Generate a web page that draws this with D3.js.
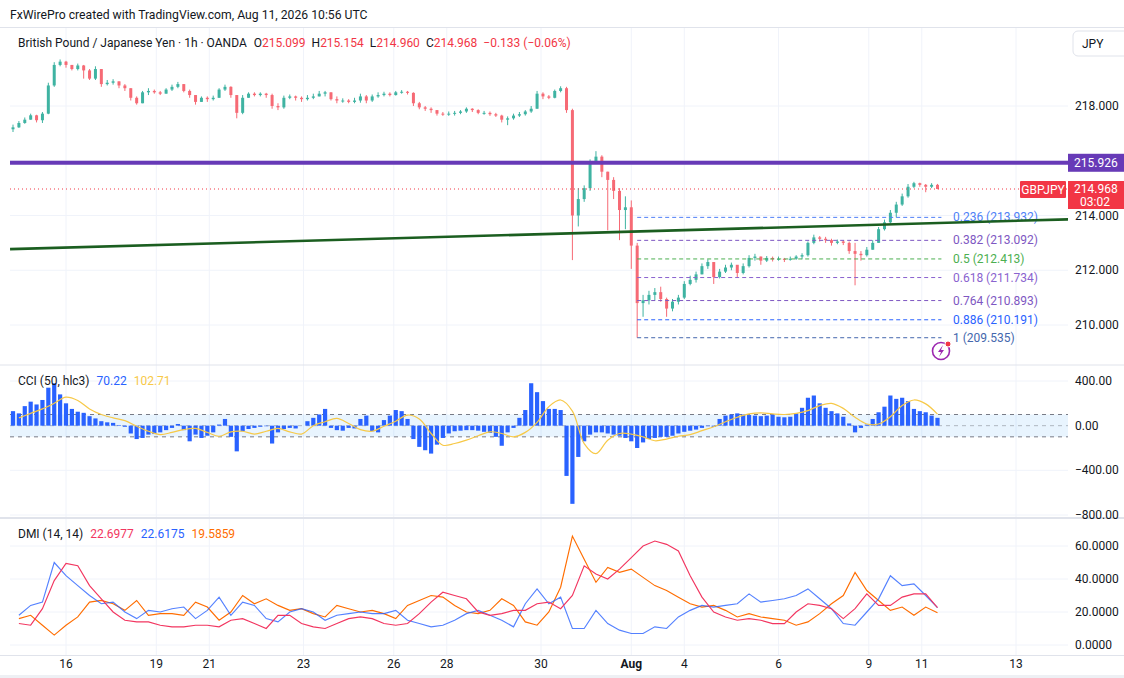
<!DOCTYPE html>
<html>
<head>
<meta charset="utf-8">
<script src="https://cdn.jsdelivr.net/npm/d3@7"></script>
<style>
  body { margin: 0; background: #fff; }
  text { font-family: Roboto, "Noto Sans", sans-serif; }
</style>
</head>
<body>
<svg id="chart" width="1124" height="678"></svg>
<script>
// 3-hour bars, first bar 27 trading hours before Jul 16 00:00
const firstBarHour = -27, barHours = 3;

const closes = [
  217.22, 217.38, 217.50, 217.66, 217.48, 217.72, 218.75, 219.50, 219.62, 219.50,
  219.35, 219.48, 219.30, 219.00, 219.35, 218.80, 218.85, 218.90, 218.75, 218.65,
  218.30, 218.10, 218.50, 218.55, 218.50, 218.45, 218.60, 218.70, 218.80, 218.55,
  218.40, 218.15, 218.30, 218.25, 218.30, 218.60, 218.70, 218.40, 217.75, 218.30,
  218.45, 218.40, 218.45, 218.40, 218.00, 217.95, 218.30, 218.35, 218.30, 218.25,
  218.30, 218.35, 218.45, 218.50, 218.25, 218.20, 218.20, 218.15, 218.20, 218.35,
  218.20, 218.35, 218.40, 218.45, 218.40, 218.50, 218.52, 218.48, 218.10, 217.95,
  217.90, 217.85, 217.72, 217.70, 217.72, 217.75, 217.80, 217.90, 217.85, 217.75,
  217.75, 217.70, 217.65, 217.50, 217.55, 217.65, 217.70, 217.80, 217.90, 218.45,
  218.35, 218.30, 218.55, 218.65, 217.85, 214.00, 214.60, 215.00, 215.95, 216.15,
  215.60, 215.30, 214.90, 214.20, 214.30, 212.90, 210.80, 210.90, 211.10, 211.20,
  210.95, 210.60, 210.85, 211.00, 211.50, 211.65, 211.85, 212.15, 212.30, 211.75,
  211.95, 212.10, 212.20, 211.90, 212.15, 212.45, 212.50, 212.35, 212.45, 212.40,
  212.42, 212.38, 212.42, 212.50, 212.55, 213.00, 213.20, 213.15, 213.10, 213.00,
  213.05, 213.00, 212.70, 212.60, 212.55, 212.75, 213.00, 213.50, 213.75, 214.10,
  214.40, 214.70, 215.05, 215.18, 215.12, 215.05, 215.12, 214.968
];
const highs = [
  217.32, 217.45, 217.58, 217.72, 217.68, 217.78, 218.85, 219.60, 219.70, 219.65,
  219.50, 219.55, 219.50, 219.35, 219.45, 219.35, 218.95, 218.98, 218.90, 218.80,
  218.65, 218.35, 218.55, 218.65, 218.60, 218.55, 218.65, 218.78, 218.88, 218.80,
  218.60, 218.40, 218.35, 218.35, 218.38, 218.65, 218.78, 218.72, 218.40, 218.40,
  218.50, 218.50, 218.50, 218.48, 218.45, 218.10, 218.38, 218.42, 218.38, 218.35,
  218.40, 218.45, 218.55, 218.55, 218.50, 218.35, 218.28, 218.25, 218.30, 218.45,
  218.40, 218.42, 218.50, 218.52, 218.50, 218.55, 218.58, 218.55, 218.50, 218.15,
  218.00, 217.95, 217.85, 217.78, 217.80, 217.82, 217.85, 217.95, 217.92, 217.88,
  217.82, 217.80, 217.75, 217.68, 217.62, 217.72, 217.78, 217.85, 218.00, 218.55,
  218.50, 218.40, 218.60, 218.72, 218.70, 217.90, 215.00, 215.10, 216.05, 216.35,
  216.20, 215.60, 215.40, 215.00, 214.70, 214.55, 213.00, 211.10, 211.25, 211.35,
  211.40, 211.00, 210.95, 211.10, 211.60, 211.80, 211.95, 212.25, 212.40, 212.30,
  212.05, 212.20, 212.28, 212.15, 212.25, 212.55, 212.60, 212.50, 212.52, 212.50,
  212.50, 212.45, 212.50, 212.55, 212.62, 213.05, 213.30, 213.25, 213.22, 213.15,
  213.12, 213.10, 213.05, 213.00, 212.70, 212.85, 213.10, 213.58, 213.85, 214.20,
  214.50, 214.80, 215.15, 215.23, 215.20, 215.15, 215.18, 215.154
];
const lows = [
  217.05, 217.20, 217.35, 217.50, 217.40, 217.38, 217.70, 218.70, 219.45, 219.40,
  219.30, 219.30, 219.00, 218.95, 218.95, 218.70, 218.75, 218.78, 218.65, 218.55,
  218.20, 218.05, 218.10, 218.40, 218.45, 218.40, 218.45, 218.55, 218.65, 218.50,
  218.30, 218.05, 218.15, 218.15, 218.20, 218.30, 218.55, 218.30, 217.55, 217.70,
  218.30, 218.35, 218.35, 218.30, 217.90, 217.85, 217.90, 218.25, 218.20, 218.15,
  218.20, 218.25, 218.35, 218.35, 218.20, 218.10, 218.12, 218.10, 218.10, 218.12,
  218.10, 218.15, 218.30, 218.35, 218.35, 218.38, 218.45, 218.42, 218.00, 217.88,
  217.82, 217.75, 217.65, 217.64, 217.64, 217.65, 217.70, 217.75, 217.78, 217.70,
  217.68, 217.64, 217.60, 217.40, 217.30, 217.50, 217.60, 217.65, 217.75, 217.90,
  218.25, 218.25, 218.28, 218.50, 217.75, 212.37, 213.60, 214.50, 214.90, 215.90,
  215.40, 213.46, 214.60, 213.10, 213.50, 212.05, 209.535, 210.30, 210.75, 210.90,
  210.85, 210.30, 210.50, 210.75, 210.95, 211.45, 211.55, 211.85, 212.05, 211.50,
  211.70, 211.90, 212.00, 211.75, 211.85, 212.10, 212.35, 212.20, 212.30, 212.32,
  212.35, 212.30, 212.35, 212.38, 212.40, 212.50, 212.95, 213.05, 213.00, 212.90,
  212.95, 212.92, 212.60, 211.45, 212.35, 212.50, 212.75, 213.00, 213.45, 213.70,
  213.93, 214.35, 214.65, 215.00, 215.05, 214.85, 215.00, 214.96
];
const firstOpen = 217.15;

// CCI(50) per bar
const cci = [
  130, 110, 175, 215, 190, 230, 340, 380, 280, 200,
  150, 125, 115, 85, 65, 40, 30, 25, 5, -10,
  -70, -120, -110, -80, -75, -60, -40, -20, 15, -40,
  -140, -80, -110, -90, -60, 10, 60, -100, -230, -50,
  -30, -20, -10, -5, -160, -60, -30, -20, -25, 0,
  40, 70, 100, 150, -20, -40, -45, -20, -25, 60,
  90, -50, -60, 50, 90, 140, 130, 60, -120, -190,
  -220, -250, -170, -110, -70, -50, -45, -40, -40, -45,
  -55, -65, -100, -180, -60, -20, 70, 140, 380, 300,
  220, 150, 150, 140, -450, -700, -280, -140, -80, -60,
  -60, -70, -80, -90, -110, -140, -200, -150, -120, -110,
  -100, -100, -90, -70, -55, -45, -35, -20, -5, -10,
  60, 90, 100, 110, 100, 95, 90, 85, 90, 100,
  80, 75, 80, 110, 160, 250, 270, 200, 160, 130,
  110, 80, 20, -60, -20, 10, 60, 120, 170, 270,
  240, 250, 220, 150, 130, 120, 90, 70.22
];

// line series sampled on every second bar (bars 1, 3, 5, ...)
const cciMa = [
  70, 110, 150, 200, 255, 225, 150, 100, 70, 45,
  -5, -50, -80, -60, -35, -25, -60, -95, -55, -50,
  -75, -50, -25, -55, -75, 0, 35, 65, 20, -35,
  -50, -5, 40, 95, 60, -70, -175, -160, -130, -90,
  -55, -70, -100, -60, 30, 170, 230, 130, -160, -250,
  -130, -70, -75, -100, -135, -120, -95, -80, -45, -10,
  35, 75, 105, 115, 105, 100, 110, 135, 180, 200,
  155, 75, 15, 15, 80, 180, 230, 195, 103
];
const adx = [
  13, 12, 22, 39, 49.5, 48, 36, 28, 20, 15,
  14, 14, 12, 11, 11, 12, 12, 11, 15, 16,
  13, 10, 18, 18, 13, 11, 10, 13, 16, 17,
  16, 13, 12, 13, 19, 26, 32, 30, 28, 20,
  18, 19, 21, 21, 25, 26, 22, 30, 48, 43,
  40, 46, 53, 60, 63, 61, 57, 42, 29, 20,
  17, 15, 16, 15, 13, 13, 20, 25, 24, 22,
  16, 22, 31, 24, 24, 29, 31, 31, 22.6977
];
const plusDI = [
  18, 24, 26, 50, 42, 36, 30, 25, 26, 20,
  16, 21, 20, 22, 23, 16, 21, 29, 18, 26,
  24, 16, 14, 20, 22, 20, 15, 18, 19, 20,
  19, 19, 21, 15, 13, 11, 12, 15, 19, 21,
  18, 15, 11, 25, 34, 25, 29, 10, 10, 21,
  13, 9, 7, 7, 11, 10, 17, 21, 24, 23,
  24, 25, 31, 26, 27, 28, 30, 34, 28, 22,
  13, 12, 20, 28, 42, 36, 37, 30, 22.6175
];
const minusDI = [
  16, 18, 12, 6, 12, 17, 26, 27, 25, 21,
  27, 18, 19, 19, 18, 26, 23, 15, 20, 30,
  25, 28, 24, 21, 22, 19, 17, 24, 22, 20,
  21, 19, 16, 24, 27, 30, 29, 24, 20, 19,
  21, 28, 24, 14, 12, 20, 35, 66, 52, 38,
  47, 44, 46, 41, 36, 33, 29, 25, 23, 24,
  21, 17, 19, 17, 16, 15, 12, 14, 19, 25,
  30, 44, 33, 27, 21, 23, 18, 23, 19.5859
];

// time axis: trading hours since Jul 16 00:00
const dayLabels = ['16', '19', '21', '23', '26', '28', '30', 'Aug', '4', '6', '9', '11', '13'];
const dayHours  = [0, 46, 73, 121, 167, 194, 242, 288, 315, 363, 409, 436, 484];

const priceTicks = [210, 212, 214, 216, 218];
const cciTicks = [400, 0, -400, -800];
const dmiTicks = [0, 20, 40, 60];

const fibRatios = ['0.236', '0.382', '0.5', '0.618', '0.764', '0.886', '1'];
const fibPrices = [213.932, 213.092, 212.413, 211.734, 210.893, 210.191, 209.535];
const fibColors = ['#4f7ff7', '#7e57c2', '#4caf50', '#8a63cf', '#7e57c2', '#2962ff', '#4467ad'];
const fibStartHour = 291, fibEndHour = 446;

const resistance = 215.926;
const lastPrice = 214.968;
// trendline anchors [hour, price]
const trendHours = [-28.5, 510.5];
const trendPrices = [212.77, 213.86];

const svg = d3.select('#chart');
const W = 1124, plotL = 10, plotR = 1068;
const main = { top: 28, bottom: 365 };
const dmiBottom = 655;

const x = d3.scaleLinear().domain([0, 484]).range([66, 1016]);
const py = d3.scaleLinear().domain([210, 218]).range([325, 106]);
const cy = d3.scaleLinear().domain([-800, 400]).range([515, 381]);
const dy = d3.scaleLinear().domain([0, 60]).range([645, 546]);

const barX = i => x(firstBarHour + barHours * i);
const lineX = k => barX(2 * k + 1);
const grid = '#f0f3fa';
const ink = '#131722';

// credit line
svg.append('text').attr('x', 10).attr('y', 19).attr('font-size', 12.2).attr('fill', ink)
  .text('FxWirePro created with TradingView.com, Aug 11, 2026 10:56 UTC');
svg.append('line').attr('x1', 0).attr('x2', W).attr('y1', 27.5).attr('y2', 27.5).attr('stroke', '#e0e3eb');

// vertical grid
svg.append('g').selectAll('line').data(dayHours).enter().append('line')
  .attr('x1', d => x(d)).attr('x2', d => x(d))
  .attr('y1', main.top).attr('y2', dmiBottom)
  .attr('stroke', grid);

// horizontal grids
svg.append('g').selectAll('line').data(priceTicks).enter().append('line')
  .attr('x1', plotL).attr('x2', plotR).attr('y1', d => py(d)).attr('y2', d => py(d)).attr('stroke', grid);
svg.append('g').selectAll('line').data([400, -400, -800]).enter().append('line')
  .attr('x1', plotL).attr('x2', plotR).attr('y1', d => cy(d)).attr('y2', d => cy(d)).attr('stroke', grid);
svg.append('g').selectAll('line').data(dmiTicks).enter().append('line')
  .attr('x1', plotL).attr('x2', plotR).attr('y1', d => dy(d)).attr('y2', d => dy(d)).attr('stroke', grid);

// pane separators
svg.append('line').attr('x1', 0).attr('x2', W).attr('y1', 365).attr('y2', 365).attr('stroke', '#e0e3eb');
svg.append('line').attr('x1', 0).attr('x2', W).attr('y1', 518).attr('y2', 518).attr('stroke', '#e0e3eb').attr('stroke-width', 2);
svg.append('line').attr('x1', 0).attr('x2', W).attr('y1', 655.5).attr('y2', 655.5).attr('stroke', '#e0e3eb');
svg.append('rect').attr('x', 0).attr('y', 675).attr('width', W).attr('height', 3).attr('fill', '#eef0f4');

// clip for main pane
const defs = svg.append('defs');
defs.append('clipPath').attr('id', 'mainClip').append('rect')
  .attr('x', plotL).attr('y', main.top).attr('width', plotR - plotL).attr('height', main.bottom - main.top);
const mg = svg.append('g').attr('clip-path', 'url(#mainClip)');

// candles
const bars = closes.map((c, i) => ({
  i, o: i === 0 ? firstOpen : closes[i - 1], h: highs[i], l: lows[i], c
}));
const up = '#3fb3a2', dn = '#f66a75';
const cg = mg.append('g');
cg.selectAll('line').data(bars).enter().append('line')
  .attr('x1', d => barX(d.i)).attr('x2', d => barX(d.i))
  .attr('y1', d => py(d.h)).attr('y2', d => py(d.l))
  .attr('stroke', d => d.c >= d.o ? up : dn).attr('stroke-width', 1);
cg.selectAll('rect').data(bars).enter().append('rect')
  .attr('x', d => barX(d.i) - 1.5).attr('width', 3)
  .attr('y', d => py(Math.max(d.o, d.c)))
  .attr('height', d => Math.max(1, Math.abs(py(d.o) - py(d.c))))
  .attr('fill', d => d.c >= d.o ? up : dn);

// resistance line
mg.append('line').attr('x1', plotL).attr('x2', plotR)
  .attr('y1', py(resistance)).attr('y2', py(resistance))
  .attr('stroke', '#673ab7').attr('stroke-width', 4);

// last price dotted line
mg.append('line').attr('x1', plotL).attr('x2', plotR)
  .attr('y1', py(lastPrice)).attr('y2', py(lastPrice))
  .attr('stroke', '#f23645').attr('stroke-width', 1).attr('stroke-dasharray', '1,3');

// fib levels
fibPrices.forEach((p, j) => {
  mg.append('line').attr('x1', x(fibStartHour)).attr('x2', x(fibEndHour))
    .attr('y1', py(p)).attr('y2', py(p))
    .attr('stroke', fibColors[j]).attr('stroke-width', 1).attr('stroke-dasharray', '4,3');
  mg.append('text').attr('x', 953).attr('y', py(p) + 4).attr('font-size', 12)
    .attr('fill', fibColors[j]).text(fibRatios[j] + ' (' + p.toFixed(3) + ')');
});

// trendline
mg.append('line')
  .attr('x1', x(trendHours[0])).attr('y1', py(trendPrices[0]))
  .attr('x2', x(trendHours[1])).attr('y2', py(trendPrices[1]))
  .attr('stroke', '#1b5e20').attr('stroke-width', 2.6);

// lightning badge
const bx = 941, by = 351;
mg.append('circle').attr('cx', bx).attr('cy', by).attr('r', 8.5)
  .attr('fill', '#fff').attr('stroke', '#9c27b0').attr('stroke-width', 1.6);
mg.append('path').attr('d', `M${bx + 2},${by - 6} L${bx - 3},${by + 1} L${bx},${by + 1} L${bx - 2},${by + 6} L${bx + 3},${by - 1} L${bx},${by - 1} Z`)
  .attr('fill', '#9c27b0');
mg.append('circle').attr('cx', bx + 7).attr('cy', by - 7).attr('r', 3)
  .attr('fill', '#f23645').attr('stroke', '#fff').attr('stroke-width', 1);

// legend main
const lg = svg.append('text').attr('x', 18).attr('y', 47).attr('font-size', 12).attr('fill', ink);
lg.append('tspan').text('British Pound / Japanese Yen · 1h · OANDA');
const ohlc = [['O', '215.099'], ['H', '215.154'], ['L', '214.960'], ['C', '214.968']];
ohlc.forEach((p, j) => {
  lg.append('tspan').attr('dx', j === 0 ? 7 : 6).attr('fill', ink).text(p[0]);
  lg.append('tspan').attr('fill', '#f23645').text(p[1]);
});
lg.append('tspan').attr('dx', 6).attr('fill', '#f23645').text('−0.133 (−0.06%)');

// CCI pane
svg.append('rect').attr('x', plotL).attr('width', plotR - plotL)
  .attr('y', cy(100)).attr('height', cy(-100) - cy(100))
  .attr('fill', 'rgba(33,150,243,0.1)');
[100, -100].forEach(v => svg.append('line').attr('x1', plotL).attr('x2', plotR)
  .attr('y1', cy(v)).attr('y2', cy(v)).attr('stroke', '#787b86').attr('stroke-dasharray', '4,4'));
svg.append('line').attr('x1', plotL).attr('x2', plotR).attr('y1', cy(0)).attr('y2', cy(0))
  .attr('stroke', '#787b86').attr('stroke-opacity', 0.5).attr('stroke-dasharray', '4,4');

svg.append('g').selectAll('rect').data(cci).enter().append('rect')
  .attr('x', (d, i) => barX(i) - 2.1).attr('width', 4.2)
  .attr('y', d => Math.min(cy(d), cy(0)))
  .attr('height', d => Math.abs(cy(d) - cy(0)))
  .attr('fill', '#2962ff');

svg.append('path').datum(cciMa)
  .attr('d', d3.line().x((d, k) => lineX(k)).y(d => cy(d)).curve(d3.curveCatmullRom))
  .attr('fill', 'none').attr('stroke', '#f7c948').attr('stroke-width', 1.2);

const cl = svg.append('text').attr('x', 18).attr('y', 385).attr('font-size', 12).attr('fill', ink);
cl.append('tspan').text('CCI (50, hlc3)');
cl.append('tspan').attr('dx', 7).attr('fill', '#2962ff').text('70.22');
cl.append('tspan').attr('dx', 7).attr('fill', '#f7c948').text('102.71');

// DMI pane
const dline = d3.line().x((d, k) => lineX(k)).y(d => dy(d));
[[minusDI, '#ff6d00'], [plusDI, '#2962ff'], [adx, '#f23660']].forEach(s => {
  svg.append('path').datum(s[0]).attr('d', dline)
    .attr('fill', 'none').attr('stroke', s[1]).attr('stroke-width', 1.15)
    .attr('stroke-opacity', s[1] === '#2962ff' ? 0.8 : 1);
});
const dl = svg.append('text').attr('x', 18).attr('y', 538).attr('font-size', 12).attr('fill', ink);
dl.append('tspan').text('DMI (14, 14)');
dl.append('tspan').attr('dx', 7).attr('fill', '#f23660').text('22.6977');
dl.append('tspan').attr('dx', 7).attr('fill', '#2962ff').text('22.6175');
dl.append('tspan').attr('dx', 7).attr('fill', '#ff6d00').text('19.5859');

// right axis labels
const ax = 1075;
svg.append('g').selectAll('text').data(priceTicks).enter().append('text')
  .attr('x', ax).attr('y', d => py(d) + 4).attr('font-size', 12).attr('fill', ink)
  .text(d => d.toFixed(3));
svg.append('g').selectAll('text').data(cciTicks).enter().append('text')
  .attr('x', ax).attr('y', d => cy(d) + 4).attr('font-size', 12).attr('fill', ink)
  .text(d => (d < 0 ? '−' : '') + Math.abs(d).toFixed(2));
svg.append('g').selectAll('text').data(dmiTicks).enter().append('text')
  .attr('x', ax).attr('y', d => dy(d) + 4).attr('font-size', 12).attr('fill', ink)
  .text(d => d.toFixed(4));

// currency box
svg.append('rect').attr('x', 1073).attr('y', 31).attr('width', 60).attr('height', 25).attr('rx', 5)
  .attr('fill', '#fff').attr('stroke', '#e0e3eb');
svg.append('text').attr('x', 1082).attr('y', 48).attr('font-size', 12).attr('fill', ink).text('JPY');

// resistance price tag
svg.append('rect').attr('x', 1068).attr('y', py(resistance) - 9).attr('width', 56).attr('height', 18).attr('fill', '#673ab7');
svg.append('text').attr('x', 1074).attr('y', py(resistance) + 4).attr('font-size', 12).attr('fill', '#fff').text(resistance.toFixed(3));

// last price tags
svg.append('rect').attr('x', 1068).attr('y', py(lastPrice) - 8).attr('width', 56).attr('height', 28).attr('fill', '#f23645');
svg.append('text').attr('x', 1074).attr('y', py(lastPrice) + 4).attr('font-size', 12).attr('fill', '#fff').text(lastPrice.toFixed(3));
svg.append('text').attr('x', 1080).attr('y', py(lastPrice) + 17).attr('font-size', 12).attr('fill', '#fff').text('03:02');
svg.append('rect').attr('x', 1020).attr('y', py(lastPrice) - 8).attr('width', 46).attr('height', 17).attr('rx', 1).attr('fill', '#f23645');
svg.append('text').attr('x', 1043).attr('y', py(lastPrice) + 4.5).attr('text-anchor', 'middle')
  .attr('font-size', 12).attr('fill', '#fff').text('GBPJPY');

// time axis labels
svg.append('g').selectAll('text').data(dayLabels).enter().append('text')
  .attr('x', (d, i) => x(dayHours[i])).attr('y', 668)
  .attr('text-anchor', 'middle').attr('font-size', 12).attr('fill', ink)
  .attr('font-weight', d => d === 'Aug' ? 'bold' : 'normal')
  .text(d => d);
</script>
</body>
</html>
